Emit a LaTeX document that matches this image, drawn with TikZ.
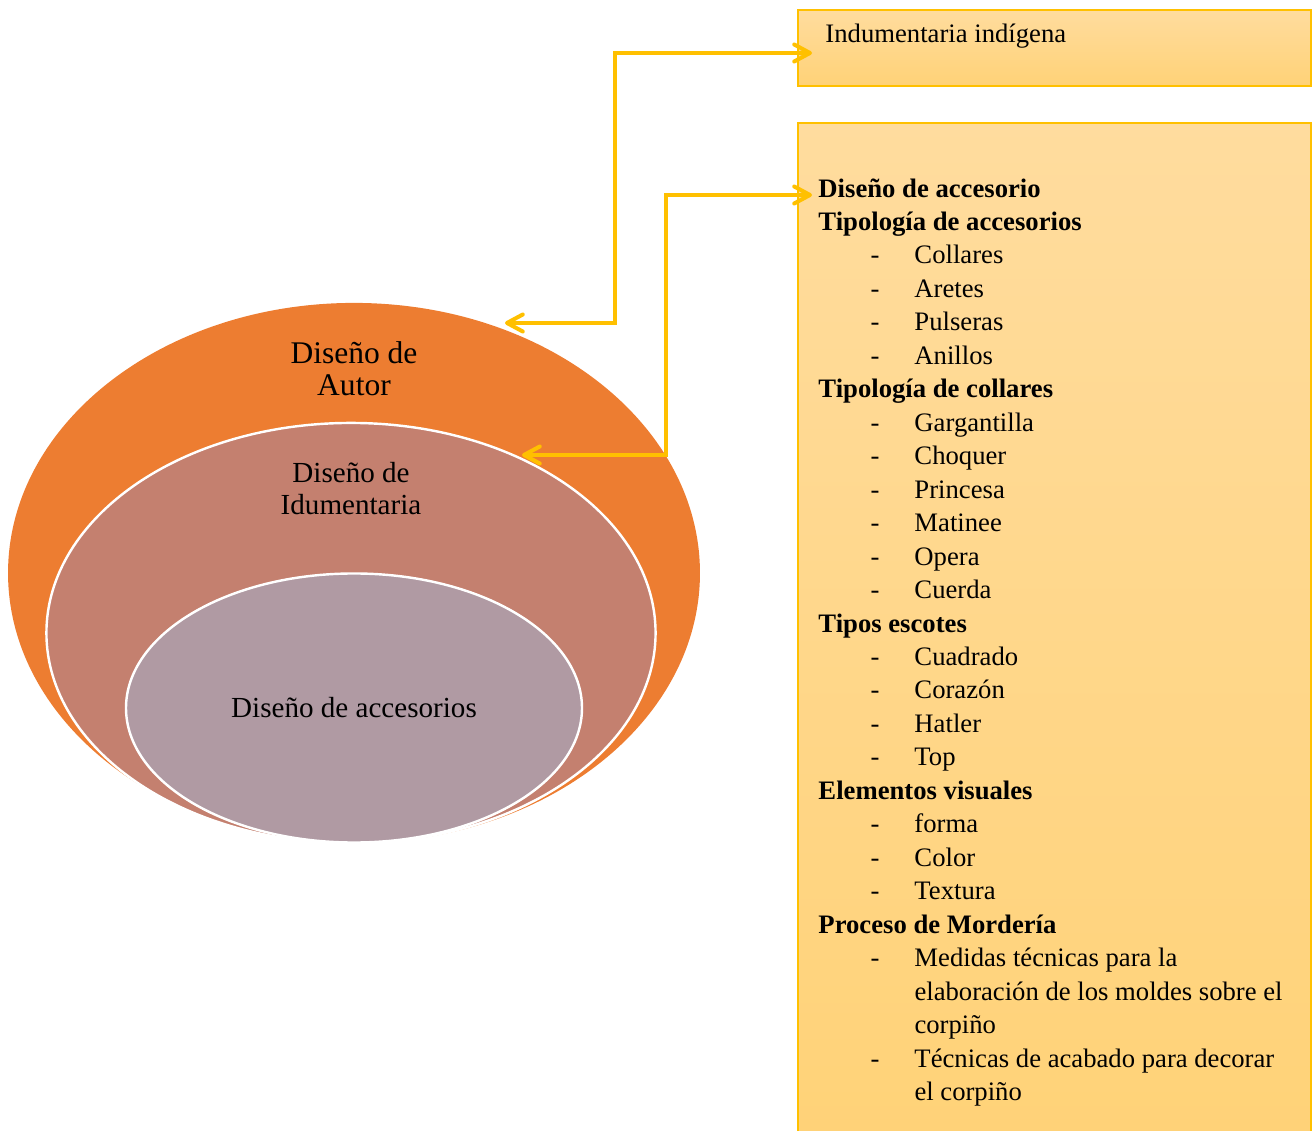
\documentclass[tikz,border=0pt]{standalone}
\usepackage{fontspec}
\setmainfont{Liberation Serif}
\usetikzlibrary{arrows.meta,positioning,calc,shapes.geometric}
\definecolor{autorfill}{HTML}{ED7D31}
\definecolor{indumfill}{HTML}{C4806F}
\definecolor{accesfill}{HTML}{B09AA3}
\definecolor{gold}{HTML}{FFC000}
\definecolor{boxtop}{HTML}{FFDC9E}
\definecolor{boxbot}{HTML}{FFD277}
\tikzset{
  ring/.style={ellipse,inner sep=0pt,align=center},
  infobox/.style={draw=gold,line width=0.9pt,top color=boxtop,bottom color=boxbot,
    anchor=north west,inner sep=0pt},
  link/.style={{Straight Barb[length=6.5pt,width=7pt,round]}-{Straight Barb[length=6.5pt,width=7pt,round]},
    draw=gold,line width=1.65pt},
  listtext/.style={anchor=north west,inner sep=0pt,align=left,font=\fontsize{11}{13.8}\selectfont}
}
\newcommand{\itm}[1]{\hspace*{21.5pt}\makebox[18.1pt][l]{-}#1}
\newcommand{\cont}{\hspace*{39.6pt}}

\begin{document}
\begin{tikzpicture}[x=0.0145cm,y=-0.0145cm]
  \useasboundingbox (0,0) rectangle (1313,1131);
  % nested ellipses
  \node[ring,fill=autorfill,minimum width=10.03cm,minimum height=7.83cm] (autor) at (354,573) {};
  \node[ring,fill=indumfill,draw=white,line width=1pt,minimum width=8.83cm,minimum height=6.09cm] (indum) at (351,633) {};
  \node[ring,fill=accesfill,draw=white,line width=1pt,minimum width=6.61cm,minimum height=3.90cm,
    font=\fontsize{12}{14}\selectfont] (acces) at (354,708) {Diseño de accesorios};
  \node[align=center,font=\fontsize{13}{13.2}\selectfont] (autorlbl) at (354,369) {Diseño de\\Autor};
  \node[align=center,font=\fontsize{12}{13.2}\selectfont] (indumlbl) at (351,489) {Diseño de\\Idumentaria};
  % boxes on the right
  \node[infobox,minimum width=7.44cm,minimum height=1.10cm] (indig) at (797,9) {};
  \node[anchor=west,inner sep=0pt,font=\fontsize{11}{13.8}\selectfont] (indiglbl) at (825,36) {Indumentaria indígena};
  \node[infobox,minimum width=7.44cm,minimum height=15cm] (accbox) at (797,122) {};
  \node[listtext] (acclist) at (818,178) {%
    \textbf{Diseño de accesorio}\\
    \textbf{Tipología de accesorios}\\
    \itm{Collares}\\
    \itm{Aretes}\\
    \itm{Pulseras}\\
    \itm{Anillos}\\
    \textbf{Tipología de collares}\\
    \itm{Gargantilla}\\
    \itm{Choquer}\\
    \itm{Princesa}\\
    \itm{Matinee}\\
    \itm{Opera}\\
    \itm{Cuerda}\\
    \textbf{Tipos escotes}\\
    \itm{Cuadrado}\\
    \itm{Corazón}\\
    \itm{Hatler}\\
    \itm{Top}\\
    \textbf{Elementos visuales}\\
    \itm{forma}\\
    \itm{Color}\\
    \itm{Textura}\\
    \textbf{Proceso de Mordería}\\
    \itm{Medidas técnicas para la}\\
    \cont elaboración de los moldes sobre el\\
    \cont corpiño\\
    \itm{Técnicas de acabado para decorar}\\
    \cont el corpiño};
  % connectors
  \coordinate (e1) at (812,53);
  \coordinate (e2) at (505,323);
  \coordinate (e3) at (812,195);
  \coordinate (e4) at (522,455);
  \draw[link] (e1) -- ++(-197,0) |- (e2);
  \draw[link] (e3) -- ++(-146,0) |- (e4);
\end{tikzpicture}
\end{document}
